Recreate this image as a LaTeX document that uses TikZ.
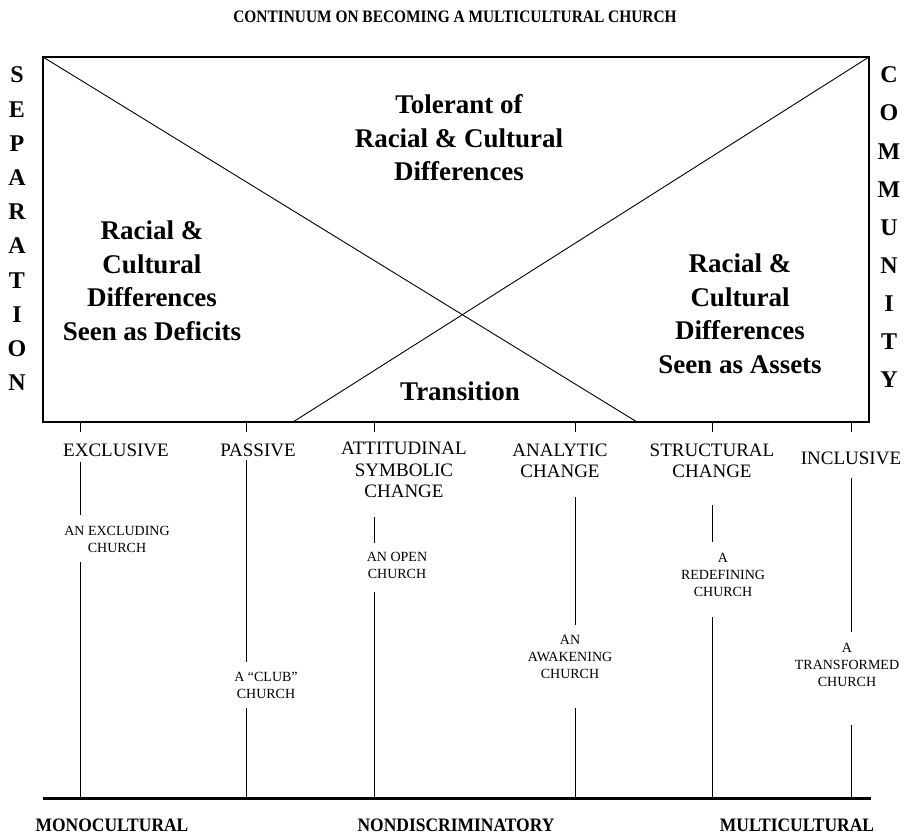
\documentclass[tikz,border=0pt]{standalone}
\usepackage{fontspec}
\setmainfont{Liberation Serif}
\begin{document}
\begin{tikzpicture}[x=1pt,y=-1pt,
  boxline/.style={line width=1.8pt},
  diag/.style={line width=0.9pt},
  vline/.style={line width=1pt},
  axisline/.style={line width=3pt},
  big/.style={font=\fontsize{27}{33.5}\selectfont\bfseries, align=center, inner sep=0pt},
  stage/.style={font=\fontsize{19}{21.5}\selectfont, align=center, inner sep=0pt},
  church/.style={font=\fontsize{14}{17}\selectfont, align=center, inner sep=0pt},
  side/.style={font=\fontsize{24}{24}\selectfont\bfseries, inner sep=0pt},
  bottomlab/.style={font=\fontsize{19}{19}\selectfont\bfseries, inner sep=0pt},
  titlelab/.style={font=\fontsize{17.5}{17.5}\selectfont\bfseries, inner sep=0pt}]
\useasboundingbox (0,0) rectangle (908,835);

% title
\node[titlelab] (title) at (455,17) {\scalebox{0.88}[1]{CONTINUUM ON BECOMING A MULTICULTURAL CHURCH}};

% box
\coordinate (TL) at (43,57);
\coordinate (TR) at (869,57);
\coordinate (BR) at (869,422);
\coordinate (BL) at (43,422);
\coordinate (D1) at (637,422);
\coordinate (D2) at (293,422);
\draw[boxline] (TL) rectangle (BR);
\draw[diag] (TL) -- (D1);
\draw[diag] (D2) -- (TR);

% box texts
\node[big] (tol) at (459,138) {Tolerant of\\Racial \& Cultural\\Differences};
\node[big] (def) at (152,281) {Racial \&\\Cultural\\Differences\\Seen as Deficits};
\node[big] (ass) at (740,314) {Racial \&\\Cultural\\Differences\\Seen as Assets};
\node[big] (trans) at (460,391) {Transition};

% side letters
\foreach \L [count=\i from 0] in {S,E,P,A,R,A,T,I,O,N}
  \node[side] (sep\i) at (17,{75+34.2*\i}) {\L};
\foreach \L [count=\i from 0] in {C,O,M,M,U,N,I,T,Y}
  \node[side] (com\i) at (889,{75+38.1*\i}) {\L};

% axis
\coordinate (AL) at (43,798);
\coordinate (AR) at (871,798);
\draw[axisline] (AL) -- (AR);

% stage labels
\node[stage] (s1) at (116,450) {EXCLUSIVE};
\node[stage] (s2) at (258,450) {PASSIVE};
\node[stage] (s3) at (404,470) {ATTITUDINAL\\SYMBOLIC\\CHANGE};
\node[stage] (s4) at (560,461) {ANALYTIC\\CHANGE};
\node[stage] (s5) at (712,461) {STRUCTURAL\\CHANGE};
\node[stage] (s6) at (851,458) {INCLUSIVE};

% church labels
\node[church] (c1) at (117,539) {AN EXCLUDING\\CHURCH};
\node[church] (c2) at (266,685) {A “CLUB”\\CHURCH};
\node[church] (c3) at (397,565) {AN OPEN\\CHURCH};
\node[church] (c4) at (570,657) {AN\\AWAKENING\\CHURCH};
\node[church] (c5) at (723,575) {A\\REDEFINING\\CHURCH};
\node[church] (c6) at (847,665) {A\\TRANSFORMED\\CHURCH};

% bottom labels
\node[bottomlab] (mono) at (112,825) {\scalebox{0.92}[1]{MONOCULTURAL}};
\node[bottomlab] (nondis) at (456,825) {\scalebox{0.92}[1]{NONDISCRIMINATORY}};
\node[bottomlab] (multi) at (797,825) {\scalebox{0.92}[1]{MULTICULTURAL}};

% vertical lines: ticks and segments
% column 1
\coordinate (t1a) at (80,422); \coordinate (t1b) at (80,432);
\coordinate (v1a) at (80,462); \coordinate (v1b) at (80,515);
\coordinate (v1c) at (80,562); \coordinate (v1d) at (80,798);
% column 2
\coordinate (t2a) at (246,422); \coordinate (t2b) at (246,432);
\coordinate (v2a) at (246,460); \coordinate (v2b) at (246,662);
\coordinate (v2c) at (246,708); \coordinate (v2d) at (246,798);
% column 3
\coordinate (t3a) at (374,422); \coordinate (t3b) at (374,432);
\coordinate (v3a) at (374,517); \coordinate (v3b) at (374,543);
\coordinate (v3c) at (374,592); \coordinate (v3d) at (374,798);
% column 4
\coordinate (t4a) at (575,422); \coordinate (t4b) at (575,432);
\coordinate (v4a) at (575,497); \coordinate (v4b) at (575,625);
\coordinate (v4c) at (575,708); \coordinate (v4d) at (575,798);
% column 5
\coordinate (t5a) at (712,422); \coordinate (t5b) at (712,432);
\coordinate (v5a) at (712,505); \coordinate (v5b) at (712,542);
\coordinate (v5c) at (712,617); \coordinate (v5d) at (712,798);
% column 6
\coordinate (t6a) at (851,422); \coordinate (t6b) at (851,432);
\coordinate (v6a) at (851,478); \coordinate (v6b) at (851,632);
\coordinate (v6c) at (851,725); \coordinate (v6d) at (851,798);

\foreach \i in {1,...,6}{
  \draw[vline] (t\i a) -- (t\i b);
  \draw[vline] (v\i a) -- (v\i b);
  \draw[vline] (v\i c) -- (v\i d);
}
\end{tikzpicture}
\end{document}
